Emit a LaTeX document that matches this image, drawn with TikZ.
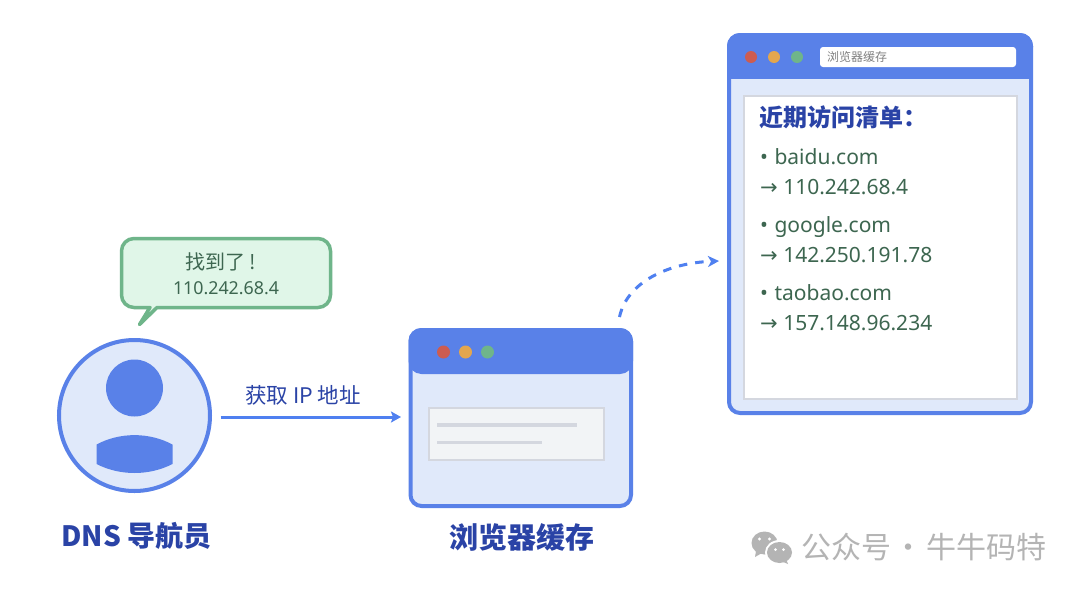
\documentclass[tikz,border=0pt]{standalone}
\usepackage{fontspec}
\setmainfont{Noto Sans}
\newfontfamily\cjk{Noto Sans CJK SC}
\newfontfamily\djv{DejaVu Sans}
\usetikzlibrary{arrows.meta}
\newcommand{\fsz}[1]{\fontsize{#1}{#1}\selectfont}
\definecolor{blueA}{HTML}{5981E8}
\definecolor{blueB}{HTML}{4F80F0}
\definecolor{paleA}{HTML}{E0E9FA}
\definecolor{navyA}{HTML}{2A43A6}
\definecolor{greenA}{HTML}{6FB58A}
\definecolor{paleG}{HTML}{E0F6E8}
\definecolor{textG}{HTML}{3D6650}
\definecolor{greyL}{HTML}{D4D7DF}
\definecolor{panelF}{HTML}{F2F4F6}
\definecolor{wmark}{HTML}{B4B4B4}
\definecolor{dotR}{HTML}{CD5C50}
\definecolor{dotY}{HTML}{E3A64E}
\definecolor{dotG}{HTML}{6FB58A}
\tikzset{
  x=1pt,y=-1pt,
  win/.style={draw=blueA,fill=paleA,line width=4pt,rounded corners=11pt,inner sep=0pt,outer sep=0pt,anchor=north west},
  dotc/.style={circle,inner sep=0pt,minimum size=13pt,fill=#1},
  bar/.style={fill=blueA},
  listline/.style={anchor=base west,inner sep=0pt,text=textG,font=\fsz{21}},
  heading/.style={inner sep=0pt,text=navyA,font=\cjk\bfseries\fsz{#1}},
  link/.style={draw=blueB,line width=3pt},
}
\begin{document}
\begin{tikzpicture}
\useasboundingbox (0,0) rectangle (1080,592);
\fill[white] (0,0) rectangle (1080,592);

% person
\node[circle,draw=blueA,fill=paleA,line width=4pt,minimum size=151pt,inner sep=0pt,outer sep=0pt] (persona) at (134.5,415.5) {};
\fill[blueA] (134.5,388) circle (28.5);
\fill[blueA] (96.5,444.5) .. controls (120,432) and (149,432) .. (172.5,444.5) -- (172.5,464)
  .. controls (149,476) and (120,476) .. (96.5,464) -- cycle;
\node[heading=28] (dnslabel) at (136.5,536) {DNS 导航员};

% speech bubble
\draw[draw=greenA,fill=paleG,line width=3.5pt,line join=round]
  (134,238.5) -- (318,238.5) arc[start angle=-90,end angle=0,radius=12.5] -- (330.5,295)
  arc[start angle=0,end angle=90,radius=12.5] -- (157,307.5) -- (139.5,324.5) -- (150,307.5) -- (134,307.5)
  arc[start angle=90,end angle=180,radius=12.5] -- (121.5,251) arc[start angle=180,end angle=270,radius=12.5] -- cycle;
\node[inner sep=0pt,text=textG,font=\cjk\fsz{20}] (found) at (221,262) {找到了 !};
\node[inner sep=0pt,text=textG,font=\fsz{17.8}] (foundip) at (226,288) {110.242.68.4};

% small browser
\node[win,minimum width=220.5pt,minimum height=176pt] (browser) at (410.5,330) {};
\fill[bar,rounded corners=13pt] (408.5,328) rectangle (633,374);
\node[dotc=dotR] (sr) at (443.5,352) {};
\node[dotc=dotY] (sy) at (465.5,352) {};
\node[dotc=dotG] (sg) at (487.5,352) {};
\node[draw=greyL,fill=panelF,line width=2pt,minimum width=174.5pt,minimum height=52.5pt,inner sep=0pt,outer sep=0pt,anchor=north west] (panel) at (429,407.5) {};
\fill[greyL] (437,423) rectangle (577,426.5);
\fill[greyL] (437,440.5) rectangle (542,444);
\node[heading=29] (cachelabel) at (522,537) {浏览器缓存};

% arrow
\draw[link,-{Stealth[length=10pt,width=11pt,inset=2pt]},shorten <=10.5pt,shorten >=9.5pt] (persona.east |- 0,417) -- (browser.west |- 0,417);
\node[inner sep=0pt,text=navyA,font=\cjk\fsz{21.5}] (getip) at (303,395) {获取 IP 地址};

% big browser
\node[win,minimum width=302pt,minimum height=378pt] (cache) at (729,35) {};
\fill[bar,rounded corners=13pt] (727,33) rectangle (1033,60);
\fill[bar] (727,46) rectangle (1033,79);
\node[dotc=dotR,minimum size=12pt] (br) at (751,57) {};
\node[dotc=dotY,minimum size=12pt] (by) at (774,57) {};
\node[dotc=dotG,minimum size=12pt] (bg) at (797,57) {};
\node[fill=white,rounded corners=3pt,minimum width=196pt,minimum height=20pt,inner sep=0pt,outer sep=0pt,anchor=north west] (addr) at (820,47) {};
\node[anchor=west,inner sep=0pt,text=black!50,font=\cjk\fsz{12}] (addrtext) at (827,57) {浏览器缓存};
\node[draw=greyL,fill=white,line width=2pt,minimum width=273pt,minimum height=303.5pt,inner sep=0pt,outer sep=0pt,anchor=north west] (listbox) at (743.5,95.5) {};
\node[heading=24,anchor=west] (listtitle) at (759,117) {近期访问清单：};
\node[listline] (l1) at (760,164) {• \hspace{1pt}baidu.com};
\node[listline] (l2) at (760,194) {{\djv →} 110.242.68.4};
\node[listline] (l3) at (760,232) {• \hspace{1pt}google.com};
\node[listline] (l4) at (760,262) {{\djv →} 142.250.191.78};
\node[listline] (l5) at (760,300) {• \hspace{1pt}taobao.com};
\node[listline] (l6) at (760,330) {{\djv →} 157.148.96.234};

% dashed connector
\draw[link,line width=3pt,dash pattern=on 8.5pt off 8pt,-{Stealth[length=11pt,width=11pt,inset=3pt]}]
  ([xshift=-11.5pt,yshift=13pt]browser.north east) .. controls (627,282) and (668,263) .. ([xshift=-10pt]cache.west |- 0,261);

% watermark
\fill[wmark] (764.5,543) ellipse (13 and 11.5);
\fill[wmark] (756,551) -- (755,557) -- (762,553) -- cycle;
\fill[white] (779.5,552.5) ellipse (14.5 and 12.5);
\fill[wmark] (779.5,552.5) ellipse (12.5 and 10.5);
\fill[wmark] (786,559) -- (788,564) -- (781,561) -- cycle;
\fill[white] (759.5,539) circle (1.7) (769.5,539) circle (1.7) (775.5,549.5) circle (1.5) (783.5,549.5) circle (1.5);
\node[anchor=west,inner sep=0pt,text=wmark,font=\cjk\fsz{30}] (wm) at (801,547) {公众号\hspace{2.5pt}·\hspace{2.5pt}牛牛码特};
\end{tikzpicture}
\end{document}
